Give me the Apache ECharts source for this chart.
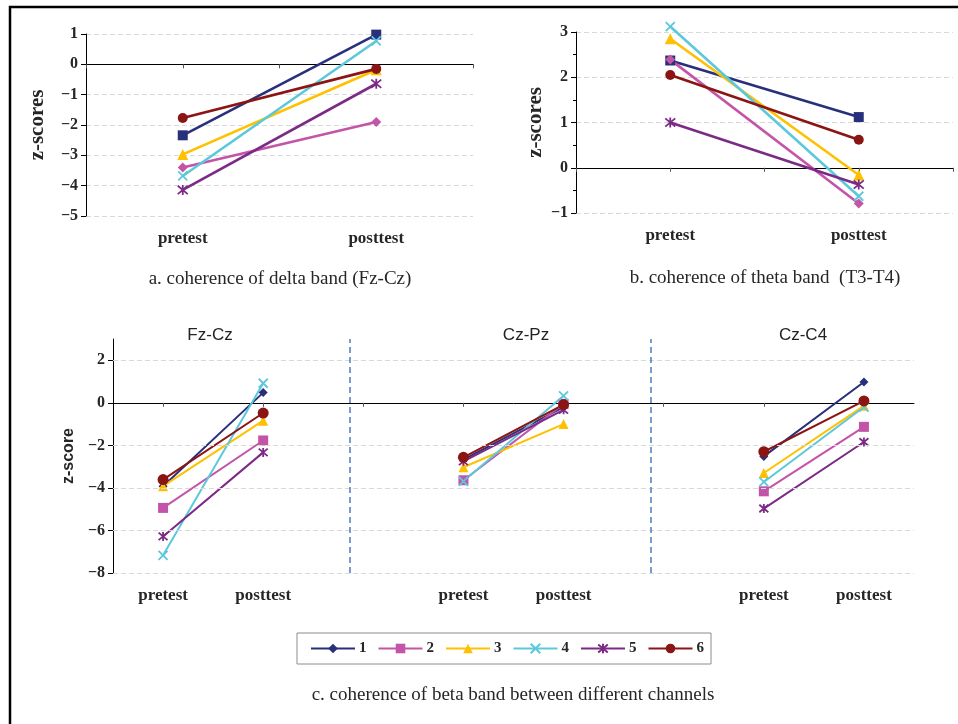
<!DOCTYPE html>
<html><head><meta charset="utf-8">
<script src="https://cdn.jsdelivr.net/npm/echarts@6/dist/echarts.min.js"></script>
<style>html,body{margin:0;padding:0;background:#fff}#c{width:958px;height:724px}</style>
</head><body><div id="c"></div>
<script>
// ---------- data ----------
const topCats = ['', 'pretest', '', 'posttest', ''];
const topIdx = [1, 3];
const bottomCats = ['pretest', 'posttest', '', 'pretest', 'posttest', '', 'pretest', 'posttest'];
const seriesNames = ['1', '2', '3', '4', '5', '6'];

// a. delta band (Fz-Cz): [pretest, posttest]
const delta1 = [-2.34, 0.98];
const delta2 = [-3.40, -1.90];
const delta3 = [-2.97, -0.18];
const delta4 = [-3.68, 0.77];
const delta5 = [-4.14, -0.64];
const delta6 = [-1.77, -0.15];

// b. theta band (T3-T4)
const theta1 = [2.37, 1.12];
const theta2 = [2.39, -0.79];
const theta3 = [2.85, -0.16];
const theta4 = [3.12, -0.63];
const theta5 = [1.00, -0.37];
const theta6 = [2.05, 0.62];

// c. beta band: Fz-Cz (pre, post), gap, Cz-Pz (pre, post), gap, Cz-C4 (pre, post)
const beta1 = [-3.92, 0.48, null, -2.67, -0.20, null, -2.52, 0.98];
const beta2 = [-4.94, -1.77, null, -3.64, -0.05, null, -4.16, -1.13];
const beta3 = [-3.92, -0.84, null, -3.03, -1.00, null, -3.30, -0.14];
const beta4 = [-7.17, 0.92, null, -3.69, 0.33, null, -3.72, -0.20];
const beta5 = [-6.28, -2.33, null, -2.75, -0.33, null, -4.97, -1.84];
const beta6 = [-3.61, -0.48, null, -2.56, -0.08, null, -2.30, 0.09];

const panelTitles = ['Fz-Cz', 'Cz-Pz', 'Cz-C4'];
const gridTicksC = [-8, -6, -4, -2, 2];
const separators = [2.36, 5.37];

// ---------- styles ----------
const colors = ['#29307b', '#c355a8', '#ffc000', '#5cc8db', '#7b2a85', '#8b1414'];
const X = 'path://M0 0L10 10M10 0L0 10';
const STAR = 'path://M0 0L10 10M10 0L0 10M5 -1L5 11';
const topSymbols = ['rect', 'diamond', 'triangle', X, STAR, 'circle'];
const topSizes = [10, 10, 11, 9, 10, 10];
const botSymbols = ['diamond', 'rect', 'triangle', X, STAR, 'circle'];
const botSizes = [9, 10, 10, 9, 9, 11];
const serif = '"Liberation Serif", "Times New Roman", serif';
const sans = '"Liberation Sans", Arial, sans-serif';
const minus = v => String(v).replace('-', '\u2212');

const deltaData = [delta1, delta2, delta3, delta4, delta5, delta6];
const thetaData = [theta1, theta2, theta3, theta4, theta5, theta6];
const betaData = [beta1, beta2, beta3, beta4, beta5, beta6];

function sym(i, symbols, sizes, lw) {
  const isPath = typeof symbols[i] === 'string' && symbols[i].indexOf('path://') === 0;
  return {
    symbol: symbols[i], symbolSize: sizes[i], showAllSymbol: true,
    itemStyle: isPath ? {color: colors[i], borderColor: colors[i], borderWidth: 1.8} : {color: colors[i]},
    lineStyle: {color: colors[i], width: lw}
  };
}

const series = [];
// grid lines and separators of panel c (drawn first, beneath the data)
series.push({
  type: 'line', xAxisIndex: 6, yAxisIndex: 2, data: [], silent: true, animation: false,
  markLine: {
    silent: true, symbol: ['none', 'none'], label: {show: false}, animation: false,
    data: gridTicksC.map(v => ({yAxis: v, lineStyle: {color: '#d9d9d9', type: [5, 3], width: 1}}))
      .concat(separators.map(s => ({xAxis: s, lineStyle: {color: '#4a7ebb', type: [6, 4], width: 1.5}})))
  }
});
deltaData.forEach((d, i) => {
  series.push(Object.assign({
    name: 'delta-' + seriesNames[i], type: 'line', xAxisIndex: 0, yAxisIndex: 0,
    data: d.map((v, k) => [topIdx[k], v]), clip: false, animation: false, silent: true
  }, sym(i, topSymbols, topSizes, 2.6)));
});
thetaData.forEach((d, i) => {
  series.push(Object.assign({
    name: 'theta-' + seriesNames[i], type: 'line', xAxisIndex: 2, yAxisIndex: 1,
    data: d.map((v, k) => [topIdx[k], v]), clip: false, animation: false, silent: true
  }, sym(i, topSymbols, topSizes, 2.6)));
});
betaData.forEach((d, i) => {
  series.push(Object.assign({
    name: seriesNames[i], type: 'line', xAxisIndex: 4, yAxisIndex: 2,
    data: d, connectNulls: false, clip: false, animation: false, silent: true
  }, sym(i, botSymbols, botSizes, 2)));
});

const labelAxis = (grid, cats, gap) => ({
  type: 'category', gridIndex: grid, data: cats, boundaryGap: gap,
  axisLine: {show: false, onZero: false}, axisTick: {show: false},
  axisLabel: {interval: 0, margin: 14, color: '#262626', fontFamily: serif, fontWeight: 'bold', fontSize: 17},
  splitLine: {show: false}
});
const zeroAxis = (grid, cats, gap) => ({
  type: 'category', gridIndex: grid, data: cats, boundaryGap: gap, position: 'top',
  axisLine: {show: true, onZero: true, lineStyle: {color: '#000', width: 1}},
  axisTick: {show: true, inside: true, length: 4, alignWithLabel: true, interval: 0, lineStyle: {color: '#555'}},
  axisLabel: {show: false}, splitLine: {show: false}
});
const yAx = (grid, min, max, interval, extra) => Object.assign({
  type: 'value', gridIndex: grid, min: min, max: max, interval: interval,
  axisLine: {show: true, onZero: false, lineStyle: {color: '#000', width: 1}},
  axisTick: {show: true, length: 5, lineStyle: {color: '#000'}},
  axisLabel: {formatter: minus, margin: 8, color: '#262626', fontFamily: serif, fontWeight: 'bold', fontSize: 16},
  splitLine: {show: true, lineStyle: {color: '#d9d9d9', type: [5, 3], width: 1}},
  nameLocation: 'middle', nameTextStyle: {color: '#262626', fontFamily: serif, fontWeight: 'bold', fontSize: 21}
}, extra);

const option = {
  animation: false,
  grid: [
    {left: 86, top: 34, width: 387, height: 182},
    {left: 576, top: 32, width: 377, height: 181},
    {left: 113, top: 339, width: 801, height: 234}
  ],
  xAxis: [
    labelAxis(0, topCats, false), zeroAxis(0, topCats, false),
    labelAxis(1, topCats, false), zeroAxis(1, topCats, false),
    labelAxis(2, bottomCats, true), zeroAxis(2, bottomCats, true),
    {type: 'value', gridIndex: 2, min: 0, max: 8, show: false}
  ],
  yAxis: [
    yAx(0, -5, 1, 1, {name: 'z-scores', nameGap: 38}),
    yAx(1, -1, 3, 1, {name: 'z-scores', nameGap: 30, minorTick: {show: true, splitNumber: 2, length: 3, lineStyle: {color: '#000'}}}),
    yAx(2, -8, 3, 2, {name: 'z-score', nameGap: 36,
      splitLine: {show: false},
      axisLabel: {formatter: minus, showMaxLabel: false, margin: 8, color: '#262626', fontFamily: serif, fontWeight: 'bold', fontSize: 16},
      nameTextStyle: {color: '#262626', fontFamily: sans, fontWeight: 'bold', fontSize: 16}})
  ],
  legend: {
    data: seriesNames, left: 297, top: 633, orient: 'horizontal',
    padding: [8, 7, 8, 13], itemGap: 11, itemWidth: 44, itemHeight: 12,
    borderColor: '#8c8c8c', borderWidth: 1, backgroundColor: '#fff',
    selectedMode: false,
    textStyle: {fontFamily: serif, fontWeight: 'bold', fontSize: 15, color: '#262626', padding: [0, 0, 0, -1]}
  },
  graphic: [
    {type: 'polyline', shape: {points: [[10, 724], [10, 7], [958, 7]]}, style: {stroke: '#000', lineWidth: 2.5, fill: null}, silent: true},
    {type: 'text', x: 280, y: 279, style: {text: 'a. coherence of delta band (Fz-Cz)', font: '19px ' + serif, fill: '#262626', textAlign: 'center', textVerticalAlign: 'middle'}},
    {type: 'text', x: 765, y: 278, style: {text: 'b. coherence of theta band  (T3-T4)', font: '19px ' + serif, fill: '#262626', textAlign: 'center', textVerticalAlign: 'middle'}},
    {type: 'text', x: 513, y: 695, style: {text: 'c. coherence of beta band between different channels', font: '19px ' + serif, fill: '#262626', textAlign: 'center', textVerticalAlign: 'middle'}},
    {type: 'text', x: 210, y: 335, z: 10, style: {text: panelTitles[0], font: '17px ' + sans, fill: '#222', textAlign: 'center', textVerticalAlign: 'middle'}},
    {type: 'text', x: 526, y: 335, z: 10, style: {text: panelTitles[1], font: '17px ' + sans, fill: '#222', textAlign: 'center', textVerticalAlign: 'middle'}},
    {type: 'text', x: 803, y: 335, z: 10, style: {text: panelTitles[2], font: '17px ' + sans, fill: '#222', textAlign: 'center', textVerticalAlign: 'middle'}}
  ],
  series: series
};
const chart = echarts.init(document.getElementById('c'), null, {renderer: 'canvas'});
chart.setOption(option);
</script></body></html>
